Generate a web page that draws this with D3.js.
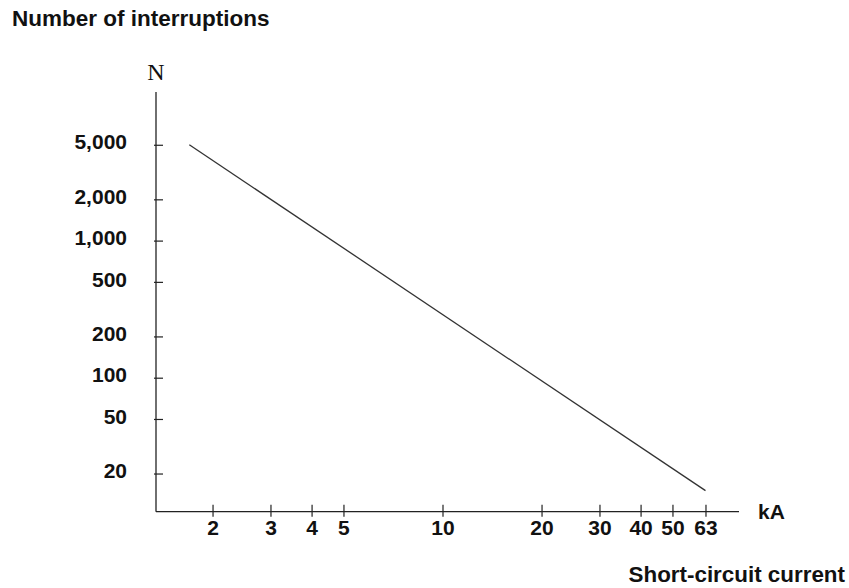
<!DOCTYPE html>
<html>
<head>
<meta charset="utf-8">
<script src="https://cdn.jsdelivr.net/npm/d3@7"></script>
<style>
  body { margin: 0; background: #fff; }
  text { font-family: "Liberation Sans", Arial, sans-serif; font-weight: bold; fill: #111; }
</style>
</head>
<body>
<svg id="chart"></svg>
<script>
// chart data
const xTicks = [2, 3, 4, 5, 10, 20, 30, 40, 50, 63];
const yTicks = [20, 50, 100, 200, 500, 1000, 2000, 5000];
const lineCurrent = [1.7, 63];      // kA
const lineInterruptions = [5000, 15];

const width = 849, height = 588;

const svg = d3.select('#chart')
    .attr('width', width)
    .attr('height', height);

// log scales, both axes
const x = d3.scaleLog()
    .domain([1, 100])
    .range([113.5, 771.5]);

const y = d3.scaleLog()
    .domain([10, 10000])
    .range([514.8, 103.5]);

const axisX = 156, axisY = 511.7;

// title
svg.append('text')
    .attr('x', 12)
    .attr('y', 26)
    .style('font-size', '22.5px')
    .text('Number of interruptions');

// N label
svg.append('text')
    .attr('x', axisX)
    .attr('y', 80)
    .attr('text-anchor', 'middle')
    .style('font-family', '"Liberation Serif", "Times New Roman", serif')
    .style('font-weight', 'normal')
    .style('font-size', '24px')
    .text('N');

// axis lines
svg.append('line')
    .attr('x1', axisX).attr('x2', axisX)
    .attr('y1', 92).attr('y2', axisY)
    .attr('stroke', '#222').attr('stroke-width', 1.3);

svg.append('line')
    .attr('x1', axisX).attr('x2', 739)
    .attr('y1', axisY).attr('y2', axisY)
    .attr('stroke', '#222').attr('stroke-width', 1.3);

// y axis
let gy = svg.append('g')
    .attr('transform', `translate(${axisX},0)`)
    .call(d3.axisLeft(y)
        .tickValues(yTicks)
        .tickSize(0)
        .tickPadding(29)
        .tickFormat(d3.format(',')));
gy.select('.domain').remove();
gy.selectAll('.tick line').remove();
gy.selectAll('.tick').append('line')
    .attr('x1', -2).attr('x2', 7)
    .attr('stroke', '#222').attr('stroke-width', 1.2);
gy.selectAll('.tick text')
    .attr('dy', '0.2em')
    .style('font-size', '21px')
    .style('font-family', '"Liberation Sans", Arial, sans-serif')
    .style('font-weight', 'bold')
    .attr('fill', '#111');

// x axis
let gx = svg.append('g')
    .attr('transform', `translate(0,${axisY})`)
    .call(d3.axisBottom(x)
        .tickValues(xTicks)
        .tickSize(0)
        .tickPadding(8.5)
        .tickFormat(d3.format('d')));
gx.select('.domain').remove();
gx.selectAll('.tick line').remove();
gx.selectAll('.tick').append('line')
    .attr('y1', -7).attr('y2', 5)
    .attr('stroke', '#222').attr('stroke-width', 1.2);
gx.selectAll('.tick text')
    .style('font-size', '21px')
    .style('font-family', '"Liberation Sans", Arial, sans-serif')
    .style('font-weight', 'bold')
    .attr('fill', '#111');

// kA unit
svg.append('text')
    .attr('x', 758)
    .attr('y', 519)
    .style('font-size', '21px')
    .text('kA');

// x axis title
svg.append('text')
    .attr('x', 845)
    .attr('y', 582)
    .attr('text-anchor', 'end')
    .style('font-size', '22.4px')
    .text('Short-circuit current');

// the characteristic line
const pts = lineCurrent.map((c, i) => [c, lineInterruptions[i]]);
svg.append('path')
    .datum(pts)
    .attr('fill', 'none')
    .attr('stroke', '#333')
    .attr('stroke-width', 1.3)
    .attr('d', d3.line().x(d => x(d[0])).y(d => y(d[1])));
</script>
</body>
</html>
